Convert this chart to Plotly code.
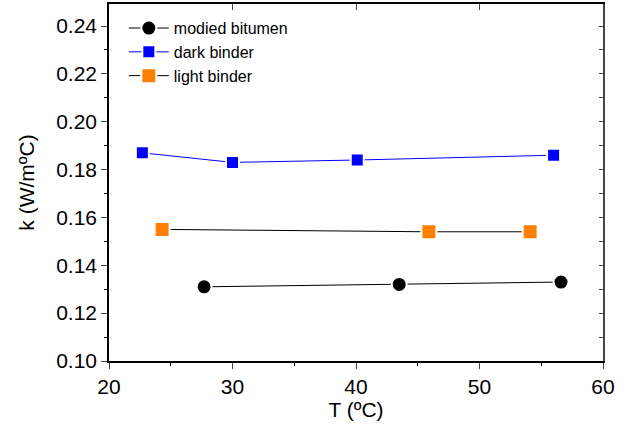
import plotly.graph_objects as go

mb_T = [27.7, 43.5, 56.6]
mb_k = [0.131, 0.132, 0.133]
db_T = [22.7, 30.0, 40.1, 56.0]
db_k = [0.187, 0.183, 0.184, 0.186]
lb_T = [24.3, 45.9, 54.1]
lb_k = [0.155, 0.154, 0.154]

fig = go.Figure()
fig.add_trace(go.Scatter(x=mb_T, y=mb_k, mode="lines+markers", name="modied bitumen",
                         line=dict(color="black", width=1),
                         marker=dict(symbol="circle", size=15, color="black", line=dict(color="white", width=2))))
fig.add_trace(go.Scatter(x=db_T, y=db_k, mode="lines+markers", name="dark binder",
                         line=dict(color="#0000ff", width=1),
                         marker=dict(symbol="square", size=13, color="#0000ff", line=dict(color="white", width=2))))
fig.add_trace(go.Scatter(x=lb_T, y=lb_k, mode="lines+markers", name="light binder",
                         line=dict(color="black", width=1),
                         marker=dict(symbol="square", size=15, color="#ff8000", line=dict(color="white", width=2))))

fam = "Arial, Liberation Sans, sans-serif"
fig.update_layout(
    width=637, height=432, margin=dict(l=109, r=34, t=4, b=71),
    paper_bgcolor="white", plot_bgcolor="white", font=dict(family=fam, color="black"),
    showlegend=True,
    legend=dict(x=0.03, y=0.98, xanchor="left", yanchor="top", font=dict(size=16, family=fam, color="black"),
                bgcolor="rgba(0,0,0,0)", tracegroupgap=0, itemwidth=40),
    xaxis=dict(range=[20, 60], tickvals=[20, 30, 40, 50, 60], ticks="outside", ticklen=6, tickwidth=1,
               showline=True, linecolor="black", linewidth=1.5, showgrid=False, zeroline=False,
               tickfont=dict(size=21, family=fam, color="black"),
               title=dict(text="T (ºC)", font=dict(size=21, family=fam, color="black"), standoff=3),
               minor=dict(tickvals=[25, 35, 45, 55], ticks="outside", ticklen=3, tickcolor="black")),
    yaxis=dict(range=[0.10, 0.2492], tickvals=[0.10, 0.12, 0.14, 0.16, 0.18, 0.20, 0.22, 0.24],
               tickformat=".2f", ticks="outside", ticklen=6, tickwidth=1,
               showline=True, linecolor="black", linewidth=1.5, showgrid=False, zeroline=False,
               tickfont=dict(size=21, family=fam, color="black"),
               title=dict(text="k (W/mºC)", font=dict(size=21, family=fam, color="black"), standoff=16),
               minor=dict(tickvals=[0.11, 0.13, 0.15, 0.17, 0.19, 0.21, 0.23], ticks="outside", ticklen=3, tickcolor="black")),
    xaxis2=dict(range=[20, 60], overlaying="x", side="top", tickvals=[20, 30, 40, 50, 60], ticks="inside",
                ticklen=6, showticklabels=False, showline=True, linecolor="black", linewidth=1.5,
                showgrid=False, zeroline=False, anchor="y"),
    yaxis2=dict(range=[0.10, 0.2492], overlaying="y", side="right",
                tickvals=[0.10, 0.11, 0.12, 0.13, 0.14, 0.15, 0.16, 0.17, 0.18, 0.19, 0.20, 0.21, 0.22, 0.23, 0.24],
                ticks="inside", ticklen=4, showticklabels=False, showline=True, linecolor="#444", linewidth=2,
                showgrid=False, zeroline=False, anchor="x"),
)
fig.add_trace(go.Scatter(x=[None], y=[None], xaxis="x2", yaxis="y2", showlegend=False, hoverinfo="skip"))
fig.write_html("out.html")
